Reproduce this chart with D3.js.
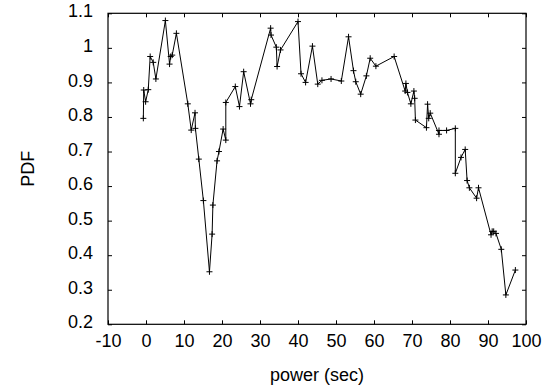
<!DOCTYPE html>
<html>
<head>
<meta charset="utf-8">
<script src="https://cdn.jsdelivr.net/npm/d3@7"></script>
<style>
body{margin:0;background:#fff;}
svg{display:block;}
text{font-family:"Liberation Sans",Arial,sans-serif;font-size:18px;fill:#000;}
</style>
</head>
<body>
<svg id="c" width="558" height="389"></svg>
<script>
const xValues = [-0.7,-0.6,-0.1,0.6,1.1,1.9,2.6,5.1,6.2,6.5,6.9,8.0,11.0,11.9,12.9,13.0,13.9,15.1,16.7,17.4,17.6,18.7,19.2,20.3,21.0,21.0,23.5,24.6,25.7,27.5,27.7,32.8,32.9,34.3,34.5,35.4,40.0,40.8,42.0,43.8,45.2,46.3,48.7,51.4,53.3,54.6,55.2,56.5,58.0,59.0,60.5,65.3,68.2,68.4,68.8,69.7,70.5,70.7,70.9,73.8,74.1,74.4,74.8,77.1,77.1,79.1,81.4,81.4,82.9,84.0,84.5,85.1,87.0,87.5,90.8,91.1,91.5,92.1,93.5,94.7,97.2];
const yValues = [0.796,0.878,0.844,0.879,0.975,0.958,0.910,1.079,0.953,0.975,0.979,1.042,0.838,0.762,0.812,0.767,0.678,0.558,0.352,0.461,0.545,0.673,0.700,0.765,0.733,0.842,0.888,0.830,0.931,0.838,0.850,1.057,1.037,1.002,0.946,0.994,1.076,0.925,0.900,1.005,0.895,0.906,0.910,0.904,1.032,0.934,0.902,0.866,0.919,0.970,0.947,0.975,0.875,0.897,0.871,0.838,0.875,0.854,0.791,0.769,0.837,0.796,0.811,0.750,0.761,0.761,0.767,0.637,0.683,0.706,0.616,0.595,0.565,0.595,0.459,0.469,0.469,0.463,0.417,0.285,0.357];
const xTicks = [-10,0,10,20,30,40,50,60,70,80,90,100];
const yTicks = [0.2,0.3,0.4,0.5,0.6,0.7,0.8,0.9,1,1.1];

const L=108,R=526,T=13.3,B=324.3;
const svg=d3.select("#c");
const x=d3.scaleLinear().domain([-10,100]).range([L,R]);
const y=d3.scaleLinear().domain([0.2,1.1]).range([B,T]);
const tl=4;

svg.append("g").attr("class","xb").attr("transform",`translate(0,${B})`)
  .call(d3.axisBottom(x).tickValues(xTicks).tickFormat(d=>String(d)).tickSizeInner(-tl).tickSizeOuter(0).tickPadding(10));
svg.append("g").attr("transform",`translate(0,${T})`)
  .call(d3.axisTop(x).tickValues(xTicks).tickFormat("").tickSizeInner(-tl).tickSizeOuter(0));
svg.append("g").attr("class","yl").attr("transform",`translate(${L},0)`)
  .call(d3.axisLeft(y).tickValues(yTicks).tickFormat(d=>String(+d.toFixed(1))).tickSizeInner(-tl).tickSizeOuter(0).tickPadding(15));
svg.append("g").attr("transform",`translate(${R},0)`)
  .call(d3.axisRight(y).tickValues(yTicks).tickFormat("").tickSizeInner(-tl).tickSizeOuter(0));
svg.selectAll(".domain").remove();
svg.selectAll(".tick line").attr("stroke","#000").attr("stroke-width",1);
svg.selectAll(".tick text").attr("font-family","Liberation Sans, Arial, sans-serif").attr("font-size",18).attr("fill","#000");
svg.selectAll(".yl .tick text").attr("dy","0.2em");

svg.append("rect").attr("x",L).attr("y",T).attr("width",R-L).attr("height",B-T)
  .attr("fill","none").attr("stroke","#000").attr("stroke-width",1.2);

const pts=xValues.map((v,i)=>[v,yValues[i]]);
svg.append("path").datum(pts)
  .attr("d",d3.line().x(d=>x(d[0])).y(d=>y(d[1])))
  .attr("fill","none").attr("stroke","#000").attr("stroke-width",1);

const s=3;
svg.append("g").selectAll("path").data(pts).join("path")
  .attr("d",d=>{const px=x(d[0]),py=y(d[1]);return `M${px-s},${py}H${px+s}M${px},${py-s}V${py+s}`;})
  .attr("stroke","#000").attr("stroke-width",1);

svg.append("text").attr("x",(L+R)/2).attr("y",381).attr("text-anchor","middle").text("power (sec)");
svg.append("text").attr("transform",`translate(34,${(T+B)/2}) rotate(-90)`).attr("text-anchor","middle").text("PDF");
</script>
</body>
</html>
